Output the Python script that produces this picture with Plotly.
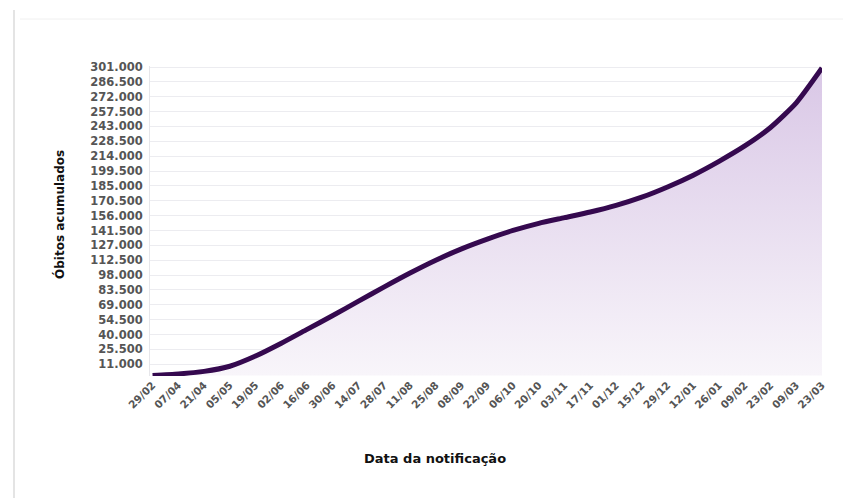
import plotly.graph_objects as go

# Data de notificação (rótulos do eixo x)
datas = ["29/02", "07/04", "21/04", "05/05", "19/05", "02/06", "16/06", "30/06",
         "14/07", "28/07", "11/08", "25/08", "08/09", "22/09", "06/10", "20/10",
         "03/11", "17/11", "01/12", "15/12", "29/12", "12/01", "26/01", "09/02",
         "23/02", "09/03", "23/03"]

# Óbitos acumulados em cada data
obitos = [0, 1500, 4000, 9000, 19000, 31500, 45000, 58500,
          72500, 86500, 100000, 112500, 123500, 133000, 141500, 148500,
          154000, 159500, 166000, 174000, 184000, 195500, 209000, 224000,
          242000, 266000, 300000]

# Marcas do eixo y: 11.000 a 301.000 de 14.500 em 14.500
y_ticks = [11000 + 14500 * i for i in range(21)]

W, H = 843, 498
L, R, T, B = 150, 21, 66, 122
FONT = "DejaVu Sans, Verdana, sans-serif"

fig = go.Figure()
fig.add_trace(go.Scatter(
    x=list(range(len(datas))), y=obitos,
    mode="lines",
    line=dict(color="#35094f", width=5, shape="spline", smoothing=0.6),
    fill="tozeroy",
    fillgradient=dict(type="vertical",
                      colorscale=[[0, "#f8f5fa"], [1, "#d9c7e6"]]),
    hoverinfo="skip",
))

fig.update_layout(
    width=W, height=H,
    margin=dict(l=L, r=R, t=T, b=B),
    paper_bgcolor="white", plot_bgcolor="white",
    separators=",.",
    showlegend=False,
    font=dict(family=FONT, color="#444"),
    xaxis=dict(
        range=[-0.1, 26.0],
        tickmode="array",
        tickvals=list(range(len(datas))),
        ticktext=datas,
        tickangle=-45,
        tickfont=dict(size=10.5, color="#555", family=FONT, weight="bold"),
        showgrid=False, zeroline=False,
        showline=False, ticks="",
    ),
    yaxis=dict(
        range=[-500, 302000],
        tickmode="array",
        tickvals=y_ticks,
        tickformat=",d",
        tickfont=dict(size=11.5, color="#555", family=FONT, weight="bold"),
        ticklabelstandoff=4,
        showgrid=True, gridcolor="#ececf0", gridwidth=1,
        zeroline=False,
        showline=True, linecolor="#e6e6ea", linewidth=1,
        ticks="", ticklen=0,
    ),
    annotations=[
        dict(text="<b>Óbitos acumulados</b>", xref="paper", yref="paper",
             x=(60 - L) / (W - L - R), y=(H - B - 215) / (H - T - B),
             textangle=-90, showarrow=False,
             font=dict(size=12, color="#111", family=FONT),
             xanchor="center", yanchor="middle"),
        dict(text="<b>Data da notificação</b>", xref="paper", yref="paper",
             x=(435 - L) / (W - L - R), y=-(458 - (H - B)) / (H - T - B),
             showarrow=False,
             font=dict(size=13, color="#111", family=FONT),
             xanchor="center", yanchor="middle"),
    ],
)

# Moldura do cartão: borda esquerda e linha superior
pw, ph = W - L - R, H - T - B
def px_x(v):
    return (v - L) / pw
def px_y(v):
    return (H - B - v) / ph

fig.add_shape(type="line", xref="paper", yref="paper",
              x0=px_x(14), x1=px_x(14), y0=px_y(10), y1=px_y(498),
              line=dict(color="#e4e4e4", width=2))
fig.add_shape(type="line", xref="paper", yref="paper",
              x0=px_x(20), x1=px_x(843), y0=px_y(19), y1=px_y(19),
              line=dict(color="#f0f0f0", width=1))

fig.write_html("out.html")
